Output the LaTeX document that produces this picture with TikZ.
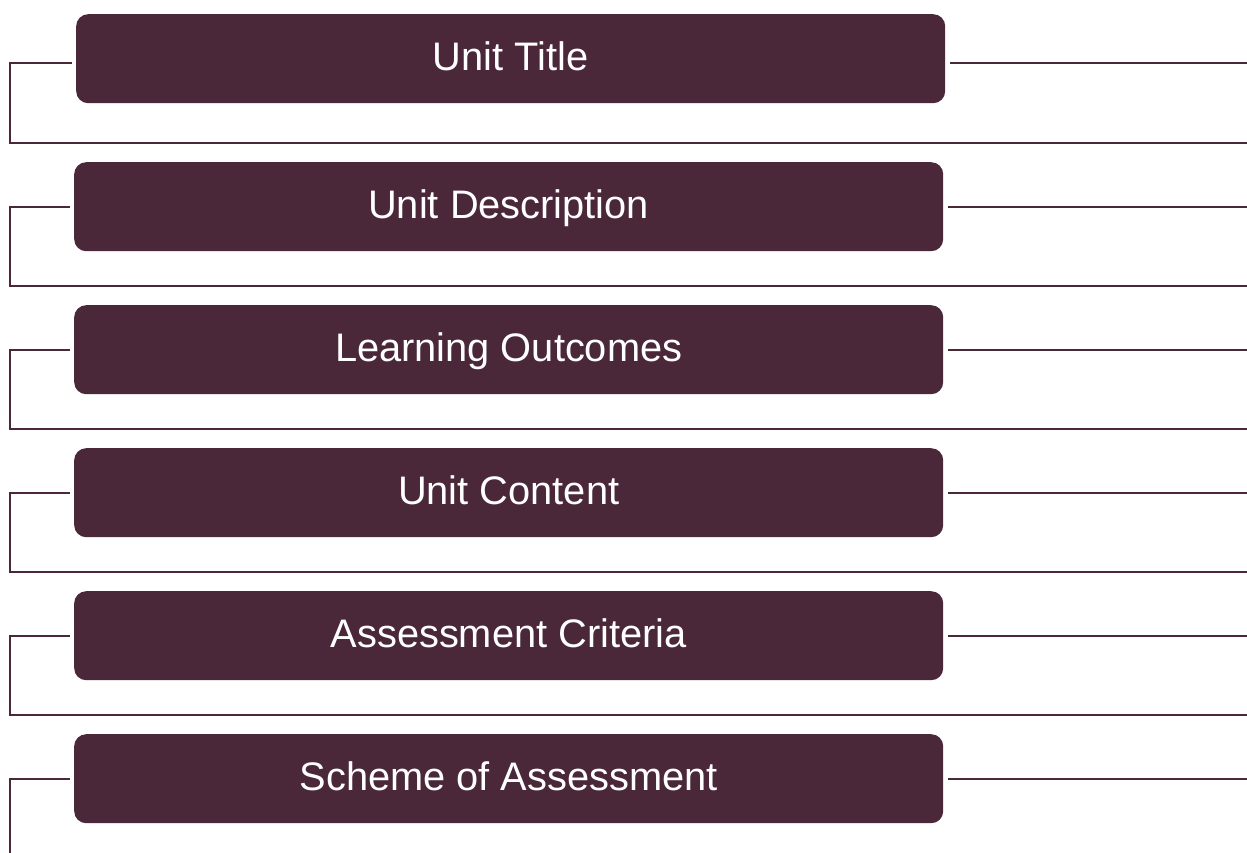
\documentclass[tikz,border=0pt]{standalone}
\usepackage{fontspec}
\setmainfont{Liberation Sans}
\definecolor{maroon}{RGB}{75,40,57}
\begin{document}
\begin{tikzpicture}[x=1pt,y=-1pt,
  box/.style={fill=maroon,rounded corners=12pt,inner sep=0pt,text=white,font=\fontsize{39.8}{44}\selectfont,text height=29pt,text depth=6pt},
  link/.style={draw=maroon,line width=2.7pt}]
\useasboundingbox (0,0) rectangle (1247,853);
% boxes: index/text/left x/top y/connector y
\foreach \i/\t/\lft/\top/\ly in {0/Unit Title/76/14/63,
  1/Unit Description/74/162/207,
  2/Learning Outcomes/74/305/350,
  3/Unit Content/74/448/493,
  4/Assessment Criteria/74/591/636,
  5/Scheme of Assessment/74/734/779}{
  \node[box,minimum width=869pt,minimum height=89pt,anchor=north west] (b\i) at (\lft,\top) {\t};
  \coordinate (l\i) at ([xshift=-4pt]b\i.west |- 0,\ly);
  \coordinate (r\i) at ([xshift=5pt]b\i.east |- 0,\ly);
  \coordinate (re\i) at (1247,\ly);
  \coordinate (lc\i) at (10,\ly);
  \draw[link] (r\i) -- (re\i);
}
\foreach \i in {0,...,4}{
  \pgfmathsetmacro{\by}{143+143*\i}
  \coordinate (bl\i) at (10,\by);
  \coordinate (br\i) at (1247,\by);
  \draw[link] (l\i) -- (lc\i) -- (bl\i) -- (br\i);
}
\coordinate (bend) at (10,853);
\draw[link] (l5) -- (lc5) -- (bend);
\end{tikzpicture}
\end{document}
